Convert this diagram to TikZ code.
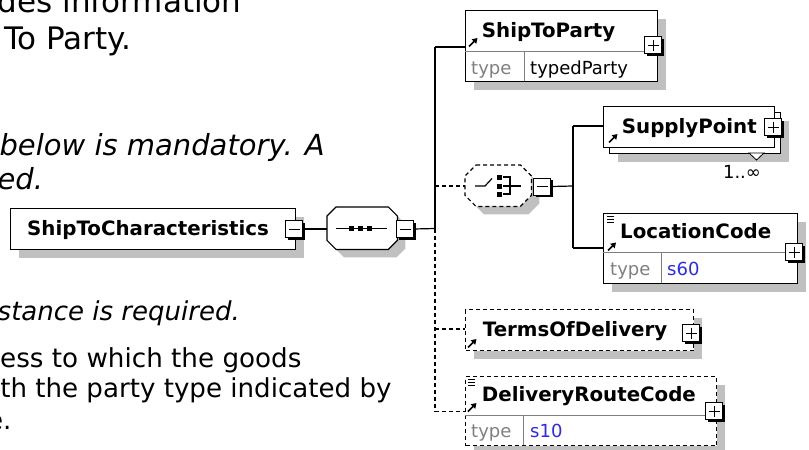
\documentclass[tikz,border=0pt]{standalone}
\usepackage{fontspec}
\setmainfont{DejaVu Sans}[BoldFont={DejaVu Sans Bold},ItalicFont={DejaVu Sans Oblique},BoldItalicFont={DejaVu Sans Bold Oblique}]
\usetikzlibrary{shadows,arrows.meta,calc}
\definecolor{shd}{HTML}{C0C0C0}
\definecolor{typegray}{HTML}{808080}
\definecolor{valblue}{HTML}{2828FF}
\newcommand{\octo}[5]{%
\path[#5] ([xshift=#3+#2,yshift=#4]#1.north west) -- ([xshift=#3-#2,yshift=#4]#1.north east) -- ([xshift=#3,yshift=#4-#2]#1.north east) -- ([xshift=#3,yshift=#4+#2]#1.south east) -- ([xshift=#3-#2,yshift=#4]#1.south east) -- ([xshift=#3+#2,yshift=#4]#1.south west) -- ([xshift=#3,yshift=#4+#2]#1.south west) -- ([xshift=#3,yshift=#4-#2]#1.north west) -- cycle;}
\newcommand{\minussign}[1]{\draw[line width=1pt] ([xshift=3.5pt]#1.west) -- ([xshift=-3.5pt]#1.east);}
\newcommand{\plussign}[1]{\minussign{#1}\draw[line width=1pt] ([yshift=-3.5pt]#1.north) -- ([yshift=3.5pt]#1.south);}
\begin{document}
\begin{tikzpicture}[x=1pt,y=-1pt,
  doc/.style={anchor=base east, inner sep=0, font=\fontsize{#1}{32}\selectfont},
  docit/.style={anchor=base east, inner sep=0, font=\fontsize{#1}{32}\selectfont\itshape},
  elem/.style={draw=black, line width=1.2pt, fill=white, anchor=north west, inner sep=0,
    drop shadow={shadow xshift=8pt, shadow yshift=-8pt, fill=shd, draw=none, opacity=1}},
  delem/.style={elem, dash pattern=on 4pt off 3pt},
  plainbox/.style={draw=black, line width=1.2pt, fill=white, anchor=north west, inner sep=0},
  pmbox/.style={draw=black, line width=1pt, fill=white, minimum size=17, inner sep=0, anchor=north west,
    drop shadow={shadow xshift=2pt, shadow yshift=-2pt, fill=black, draw=none, opacity=1}},
  ename/.style={anchor=base west, inner sep=0, font=\fontsize{19.8}{22}\selectfont\bfseries},
  typel/.style={anchor=base west, inner sep=0, font=\fontsize{18}{20}\selectfont, text=typegray},
  typev/.style={anchor=base west, inner sep=0, font=\fontsize{18}{20}\selectfont},
  divider/.style={draw=typegray, line width=1pt},
  conn/.style={line width=1.2pt},
  dconn/.style={line width=1.2pt, dash pattern=on 4pt off 3pt},
  refarrow/.style={line width=1.6pt, -{Triangle[length=5pt,width=6pt]}},
  icon/.style={line width=1pt}
]
\useasboundingbox (0,0) rectangle (809,450);
\clip (0,0) rectangle (809,450);

% documentation text (background)
\node[doc=31] (d1) at (241.7,12) {des information};
\node[doc=31] (d2) at (131.7,49) {To Party.};
\node[docit=29] (d3) at (325,155) {below is mandatory. A};
\node[docit=29] (d4) at (43.3,189) {red.};
\node[docit=26] (d5) at (240,320) {stance is required.};
\node[doc=26.2] (d6) at (301.7,367) {ess to which the goods};
\node[doc=26.1] (d7) at (391.7,397) {th the party type indicated by};
\node[doc=26.1] (d8) at (11.7,429) {e.};

% ShipToCharacteristics
\node[elem, minimum width=285, minimum height=41] (stc) at (10,208) {};
\node[ename] (stct) at (27,235.5) {ShipToCharacteristics};
\node[pmbox] (stcm) at (285,220) {};
\minussign{stcm}

% sequence compositor
\node[inner sep=0, minimum width=70, minimum height=42, anchor=north west] (seq) at (327,207) {};
\octo{seq}{9pt}{8pt}{-8pt}{fill=shd}
\octo{seq}{9pt}{0pt}{0pt}{draw=black, line width=1.2pt, fill=white}
\draw[line width=1.2pt] (336,228.5) -- (387,228.5);
\fill (348.5,226) rectangle ++(5,5);
\fill (357.5,226) rectangle ++(5,5);
\fill (366.5,226) rectangle ++(5,5);
\node[pmbox] (seqm) at (396,220) {};
\minussign{seqm}

% choice compositor
\node[inner sep=0, minimum width=66, minimum height=41, anchor=north west] (ch) at (465,165) {};
\octo{ch}{11pt}{8pt}{-8pt}{fill=shd}
\octo{ch}{11pt}{0pt}{0pt}{draw=black, line width=1.2pt, fill=white, dash pattern=on 4pt off 3pt}
\draw[line width=1.2pt] (475,186) -- (485,186) -- (492,178.5);
\fill (496.5,175) rectangle ++(5,4.5);
\fill (496.5,183.5) rectangle ++(5,5);
\fill (496.5,192) rectangle ++(5,5);
\draw[line width=1.2pt] (503,177) -- (510,177) -- (510,194) -- (503,194);
\draw[line width=1.2pt] (503,186) -- (521,186);
\node[pmbox] (chm) at (533,177.5) {};
\minussign{chm}

% ShipToParty
\node[elem, minimum width=192, minimum height=71] (stp) at (465,10) {};
\draw[divider] (465,51) -- (657,51);
\draw[divider] (524,51) -- (524,81);
\node[ename] (stpt) at (481.7,37) {ShipToParty};
\node[typel] (stpty) at (471,74) {type};
\node[typev] (stptv) at (530,74) {typedParty};
\node[pmbox] (stpp) at (644,36) {};
\plussign{stpp}
\draw[refarrow] (469,46.5) -- (477.5,38);

% SupplyPoint (multiple)
\node[elem, minimum width=171, minimum height=41] (spb) at (609,112) {};
\node[plainbox, minimum width=171, minimum height=41] (sp) at (603,106) {};
\draw[line width=0.8pt, fill=white] (749,153) -- (764,153) -- (756.5,160) -- cycle;
\node[ename] (spt) at (621.7,133.3) {SupplyPoint};
\node[pmbox] (spp) at (764,118) {};
\plussign{spp}
\draw[refarrow] (609,142.5) -- (617.5,134);
\node[anchor=base, inner sep=0, font=\fontsize{18}{20}\selectfont] (mult) at (742,178.5) {1..∞};

% LocationCode
\node[elem, minimum width=194, minimum height=70] (lc) at (603,213) {};
\draw[divider] (603,252) -- (797,252);
\draw[divider] (661,252) -- (661,283);
\node[ename] (lct) at (620,238.3) {LocationCode};
\node[typel] (lcty) at (610,275.5) {type};
\node[typev, text=valblue] (lctv) at (667,275.5) {s60};
\node[pmbox] (lcp) at (785,243) {};
\plussign{lcp}
\draw[icon] (607,216) -- (614,216) (607,219) -- (614,219) (607,222) -- (614,222);
\draw[refarrow] (608,250.5) -- (616,242.5);

% TermsOfDelivery
\node[delem, minimum width=228, minimum height=41] (tod) at (465,309) {};
\node[ename] (todt) at (482.7,336.7) {TermsOfDelivery};
\node[pmbox] (todp) at (682,324) {};
\plussign{todp}
\draw[refarrow] (468,347.5) -- (476.5,339);

% DeliveryRouteCode
\node[delem, minimum width=251, minimum height=69] (drc) at (465,376) {};
\draw[divider] (465,415) -- (716,415);
\draw[divider] (523,415) -- (523,445);
\node[ename] (drct) at (481.7,401.7) {DeliveryRouteCode};
\node[typel] (drcty) at (471,437.5) {type};
\node[typev, text=valblue] (drctv) at (530,437.5) {s10};
\node[pmbox] (drcp) at (705,402) {};
\plussign{drcp}
\draw[icon] (468,379) -- (475,379) (468,382) -- (475,382) (468,385) -- (475,385);
\draw[refarrow] (468,411.5) -- (476.5,403);

% connectors
\coordinate (j0) at (435,47);
\coordinate (jch) at (435,186);
\coordinate (jseq) at (435,228.5);
\coordinate (jtod) at (435,329);
\coordinate (jdrc) at (435,411.5);
\coordinate (k0) at (573,186);
\coordinate (k1) at (573,126);
\coordinate (k2) at (573,248);
\draw[conn] (j0) -- (jseq);
\draw[dconn] (jseq) -- (jdrc);
\draw[conn] (stcm.east) -- (stcm.east -| seq.west);
\draw[conn] (seqm.east) -- (jseq);
\draw[conn] (j0) -- (j0 -| stp.west);
\draw[dconn] (jch) -- (jch -| ch.west);
\draw[conn] (chm.east) -- (k0);
\draw[conn] (k1) -- (k2);
\draw[conn] (k1) -- (k1 -| sp.west);
\draw[conn] (k2) -- (k2 -| lc.west);
\draw[dconn] (jtod) -- (jtod -| tod.west);
\draw[dconn] (jdrc) -- (jdrc -| drc.west);
\end{tikzpicture}
\end{document}
